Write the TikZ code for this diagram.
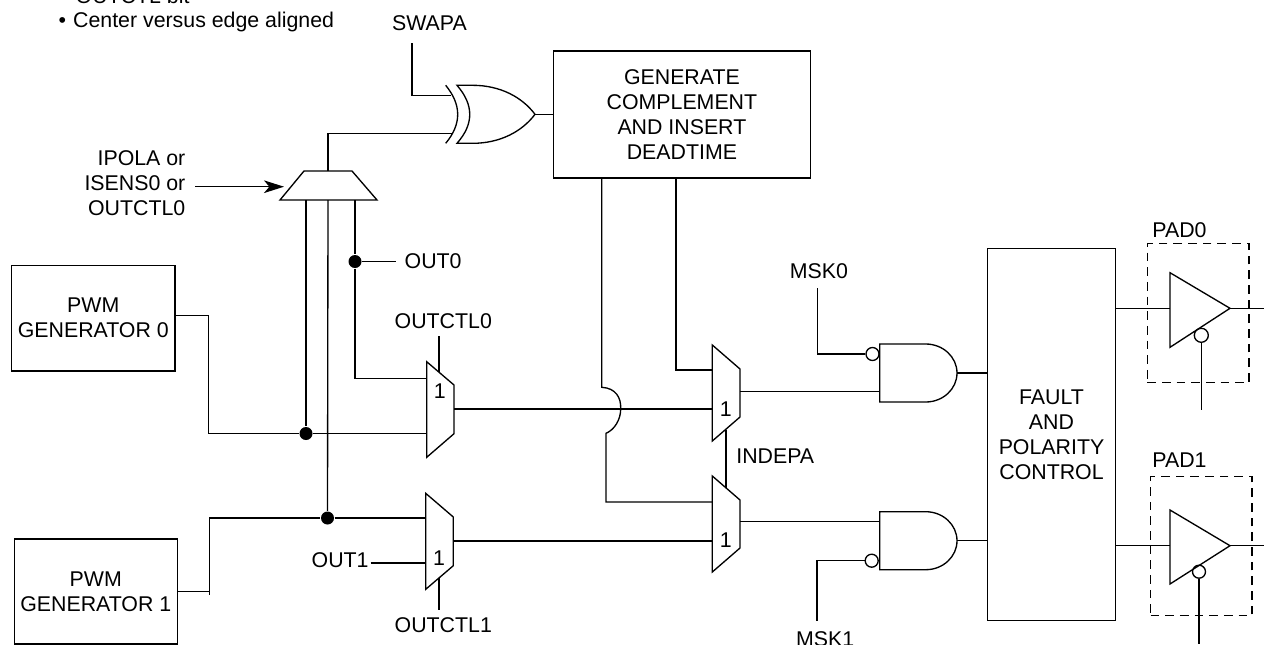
\documentclass[tikz,border=0pt]{standalone}
\usepackage{fontspec}
\setmainfont{Liberation Sans}
\usetikzlibrary{arrows.meta}

\def\px{0.75pt}

\tikzset{
  wire/.style={line width=1pt, line join=miter},
  lbl/.style={inner sep=0pt, font=\fontsize{16}{18.75}\selectfont},
  block/.style={draw, line width=1pt, inner sep=0pt, align=center,
    font=\fontsize{16}{18.75}\selectfont},
  padbox/.style={draw, dashed, dash pattern=on 6.5pt off 4.5pt, line width=0.9pt, inner sep=0pt},
  jdot/.style={circle, fill=black, inner sep=0pt, minimum size=13*\px},
  bubble/.style={circle, draw, line width=1pt, inner sep=0pt, minimum size=13*\px},
}

\begin{document}
\begin{tikzpicture}[x=\px, y=-\px, wire]

\useasboundingbox (0,0) rectangle (1264,644);

% blocks
\node[block, minimum width=163.3*\px, minimum height=105.7*\px] (pwmzero) at (93.3,318.2) {PWM\\GENERATOR 0};
\node[block, minimum width=163*\px, minimum height=105*\px] (pwmone) at (95.8,591.5) {PWM\\GENERATOR 1};
\node[block, minimum width=256.8*\px, minimum height=127*\px] (gencomp) at (681.9,114.5) {GENERATE\\COMPLEMENT\\AND INSERT\\DEADTIME};
\node[block, minimum width=127.6*\px, minimum height=371.6*\px] (faultctl) at (1051.5,434.5) {FAULT\\AND\\POLARITY\\CONTROL};
\node[padbox, minimum width=101.7*\px, minimum height=139.4*\px] (padzero) at (1198.2,313) {};
\node[padbox, minimum width=101.3*\px, minimum height=139*\px] (padone) at (1201.3,546.2) {};

% texts
\node[lbl, anchor=base west] (bitnote) at (75,3) {OUTCTL bit};
\node[lbl, anchor=base west] (alignnote) at (58,27) {\textbullet\hspace{0.33em}Center versus edge aligned};
\node[lbl, anchor=base] (swapa) at (429.5,30.5) {SWAPA};
\node[lbl, anchor=base east] (ipola) at (186,165) {IPOLA or};
\node[lbl, anchor=base east] (isens) at (186,190) {ISENS0 or};
\node[lbl, anchor=base east] (outctlc) at (186,215) {OUTCTL0};
\node[lbl, anchor=base west] (outzero) at (404,268) {OUT0};
\node[lbl, anchor=base west] (outctlzero) at (394,328) {OUTCTL0};
\node[lbl, anchor=base west] (outone) at (311,567) {OUT1};
\node[lbl, anchor=base west] (outctlone) at (394,632) {OUTCTL1};
\node[lbl, anchor=base west] (indepa) at (735.7,463) {INDEPA};
\node[lbl, anchor=base west] (mskzero) at (789.3,278) {MSK0};
\node[lbl, anchor=base west] (mskone) at (795.5,646.5) {MSK1};
\node[lbl, anchor=base west] (padzerotxt) at (1151.7,237) {PAD0};
\node[lbl, anchor=base west] (padonetxt) at (1151.7,467.7) {PAD1};

% xor gate
\draw (445.7,85.3) .. controls (461.7,105) and (461.7,124) .. (445.7,143.3);
\draw (457,85.3) -- (472.7,85.3) .. controls (500,85.3) and (522,97) .. (535,114.3)
  .. controls (522,131.6) and (500,143.3) .. (472.7,143.3) -- (457,143.3)
  .. controls (474,124) and (474,105) .. (457,85.3) -- cycle;

% select mux
\draw (304,171) -- (352,171) -- (377,200) -- (280,200) -- cycle;

% muxes
\draw (426.7,361.7) -- (454,385) -- (454,433.7) -- (426.7,457.3) -- cycle;
\draw (425.7,493.3) -- (453.3,517) -- (453.3,565.7) -- (425.7,589.3) -- cycle;
\draw (712.3,345) -- (740,369) -- (740,417) -- (712.3,441) -- cycle;
\draw (712.3,476) -- (740,500) -- (740,548) -- (712.3,572) -- cycle;
\node[lbl] (oneA) at (439.7,391) {1};
\node[lbl] (oneB) at (439,558) {1};
\node[lbl] (oneC) at (725.7,409) {1};
\node[lbl] (oneD) at (725.7,540) {1};

% and gates
\draw (879.7,344) -- (925.7,344) .. controls (943,344) and (957,357) .. (957,373)
  .. controls (957,389) and (943,402) .. (925.7,402) -- (879.7,402) -- cycle;
\draw (879.7,511.7) -- (925.7,511.7) .. controls (943,511.7) and (957,524.7) .. (957,540.7)
  .. controls (957,556.7) and (943,569.7) .. (925.7,569.7) -- (879.7,569.7) -- cycle;
\node[bubble] (negzero) at (872.5,354) {};
\node[bubble] (negone) at (871.7,560.7) {};

% output buffers
\draw (1170,272.7) -- (1230,308.3) -- (1170,347.3) -- cycle;
\draw (1170,510) -- (1230,545.7) -- (1170,584) -- cycle;
\node[bubble, minimum size=14*\px] (oezero) at (1201.3,335.3) {};
\node[bubble, minimum size=13*\px] (oeone) at (1199,571.7) {};

% junctions
\node[jdot] (dotout) at (355,261.5) {};
\node[jdot] (dotA) at (306,433.5) {};
\node[jdot] (dotB) at (327.5,518) {};

% ports
\coordinate (swapaend) at (412,43);
\coordinate (xorinA) at (451,95.3);
\coordinate (xorinB) at (452.7,133.7);
\coordinate (xorout) at (535,114.3);
\coordinate (muxtop) at (328,171);
\coordinate (muxleft) at (284,186.7);
\coordinate (arrowtail) at (195,186.7);
\coordinate (muxbotA) at (306,200);
\coordinate (muxbotB) at (328,200);
\coordinate (muxbotC) at (355,200);
\coordinate (outzeroend) at (396,261.5);
\coordinate (muxAinA) at (426.7,378.3);
\coordinate (muxAinB) at (426.7,433.5);
\coordinate (muxAout) at (454,409);
\coordinate (muxCinB) at (712.3,409);
\coordinate (ctlAend) at (439,336);
\coordinate (ctlAgate) at (439,372);
\coordinate (muxBinA) at (425.7,518);
\coordinate (muxBinB) at (425.7,563);
\coordinate (outoneend) at (370.7,563);
\coordinate (muxBout) at (453.3,541);
\coordinate (muxDinB) at (712.3,541);
\coordinate (ctlBgate) at (439,578);
\coordinate (ctlBend) at (439,610);
\coordinate (muxCinA) at (712.3,370);
\coordinate (muxDinA) at (712.3,502);
\coordinate (muxCbot) at (726,429.5);
\coordinate (muxDtop) at (726,488);
\coordinate (genleft) at (601.7,178);
\coordinate (genright) at (676,178);
\coordinate (jumpin) at (601.7,387.3);
\coordinate (jumpout) at (606,433.3);
\coordinate (muxCout) at (740,391.7);
\coordinate (andAin) at (879.7,391.7);
\coordinate (muxDout) at (740,521.5);
\coordinate (andBin) at (879.7,521.5);
\coordinate (mskzeroend) at (817.3,288);
\coordinate (mskoneend) at (817,620.7);
\coordinate (andAout) at (957,373);
\coordinate (faultinA) at (987.7,373);
\coordinate (andBout) at (957,540.7);
\coordinate (faultinB) at (987.7,540.7);
\coordinate (faultoutA) at (1115.3,308.3);
\coordinate (bufAin) at (1170,308.3);
\coordinate (bufAout) at (1230,308.3);
\coordinate (edgeA) at (1264,308.3);
\coordinate (faultoutB) at (1115.3,545.7);
\coordinate (bufBin) at (1170,545.7);
\coordinate (bufBout) at (1230,545.7);
\coordinate (edgeB) at (1264,545.7);
\coordinate (oeAend) at (1201.3,410);
\coordinate (oeBend) at (1199,644);

% connectors
\draw (swapaend) |- (xorinA);
\draw (muxtop) |- (xorinB);
\draw (xorout) -- (xorout -| gencomp.west);
\draw[-{Stealth[length=15pt, width=9.5pt, inset=4pt]}] (arrowtail) -- (muxleft);
\draw (muxbotA) -- (dotA);
\draw (muxbotB) -- (dotB);
\draw (muxbotC) -- (dotout);
\draw (dotout) -- (outzeroend);
\draw (dotout) |- (muxAinA);
\draw (pwmzero.east |- 0,315.7) -| (208.7,433.5) -- (dotA);
\draw (dotA) -- (muxAinB);
\draw (pwmone.east |- 0,591.7) -| (209.3,518) -- (dotB);
\draw (209.3,591.7) -- (209.3,595);
\draw (dotB) -- (muxBinA);
\draw (outoneend) -- (muxBinB);
\draw (ctlAend) -- (ctlAgate);
\draw (ctlBgate) -- (ctlBend);
\draw (muxAout) -- (muxCinB);
\draw (muxBout) -- (muxDinB);
\draw (genright) |- (muxCinA);
\draw (genleft) -- (jumpin)
  .. controls (616,388) and (621,398) .. (620.7,408)
  .. controls (621,420) and (614,430) .. (jumpout)
  |- (muxDinA);
\draw (muxCbot) -- (muxDtop);
\draw (muxCout) -- (andAin);
\draw (muxDout) -- (andBin);
\draw (mskzeroend) |- (negzero);
\draw (mskoneend) |- (negone);
\draw (andAout) -- (faultinA);
\draw (andBout) -- (faultinB);
\draw (faultoutA) -- (bufAin);
\draw (bufAout) -- (edgeA);
\draw (faultoutB) -- (bufBin);
\draw (bufBout) -- (edgeB);
\draw (oezero) -- (oeAend);
\draw (oeone) -- (oeBend);

\end{tikzpicture}
\end{document}
